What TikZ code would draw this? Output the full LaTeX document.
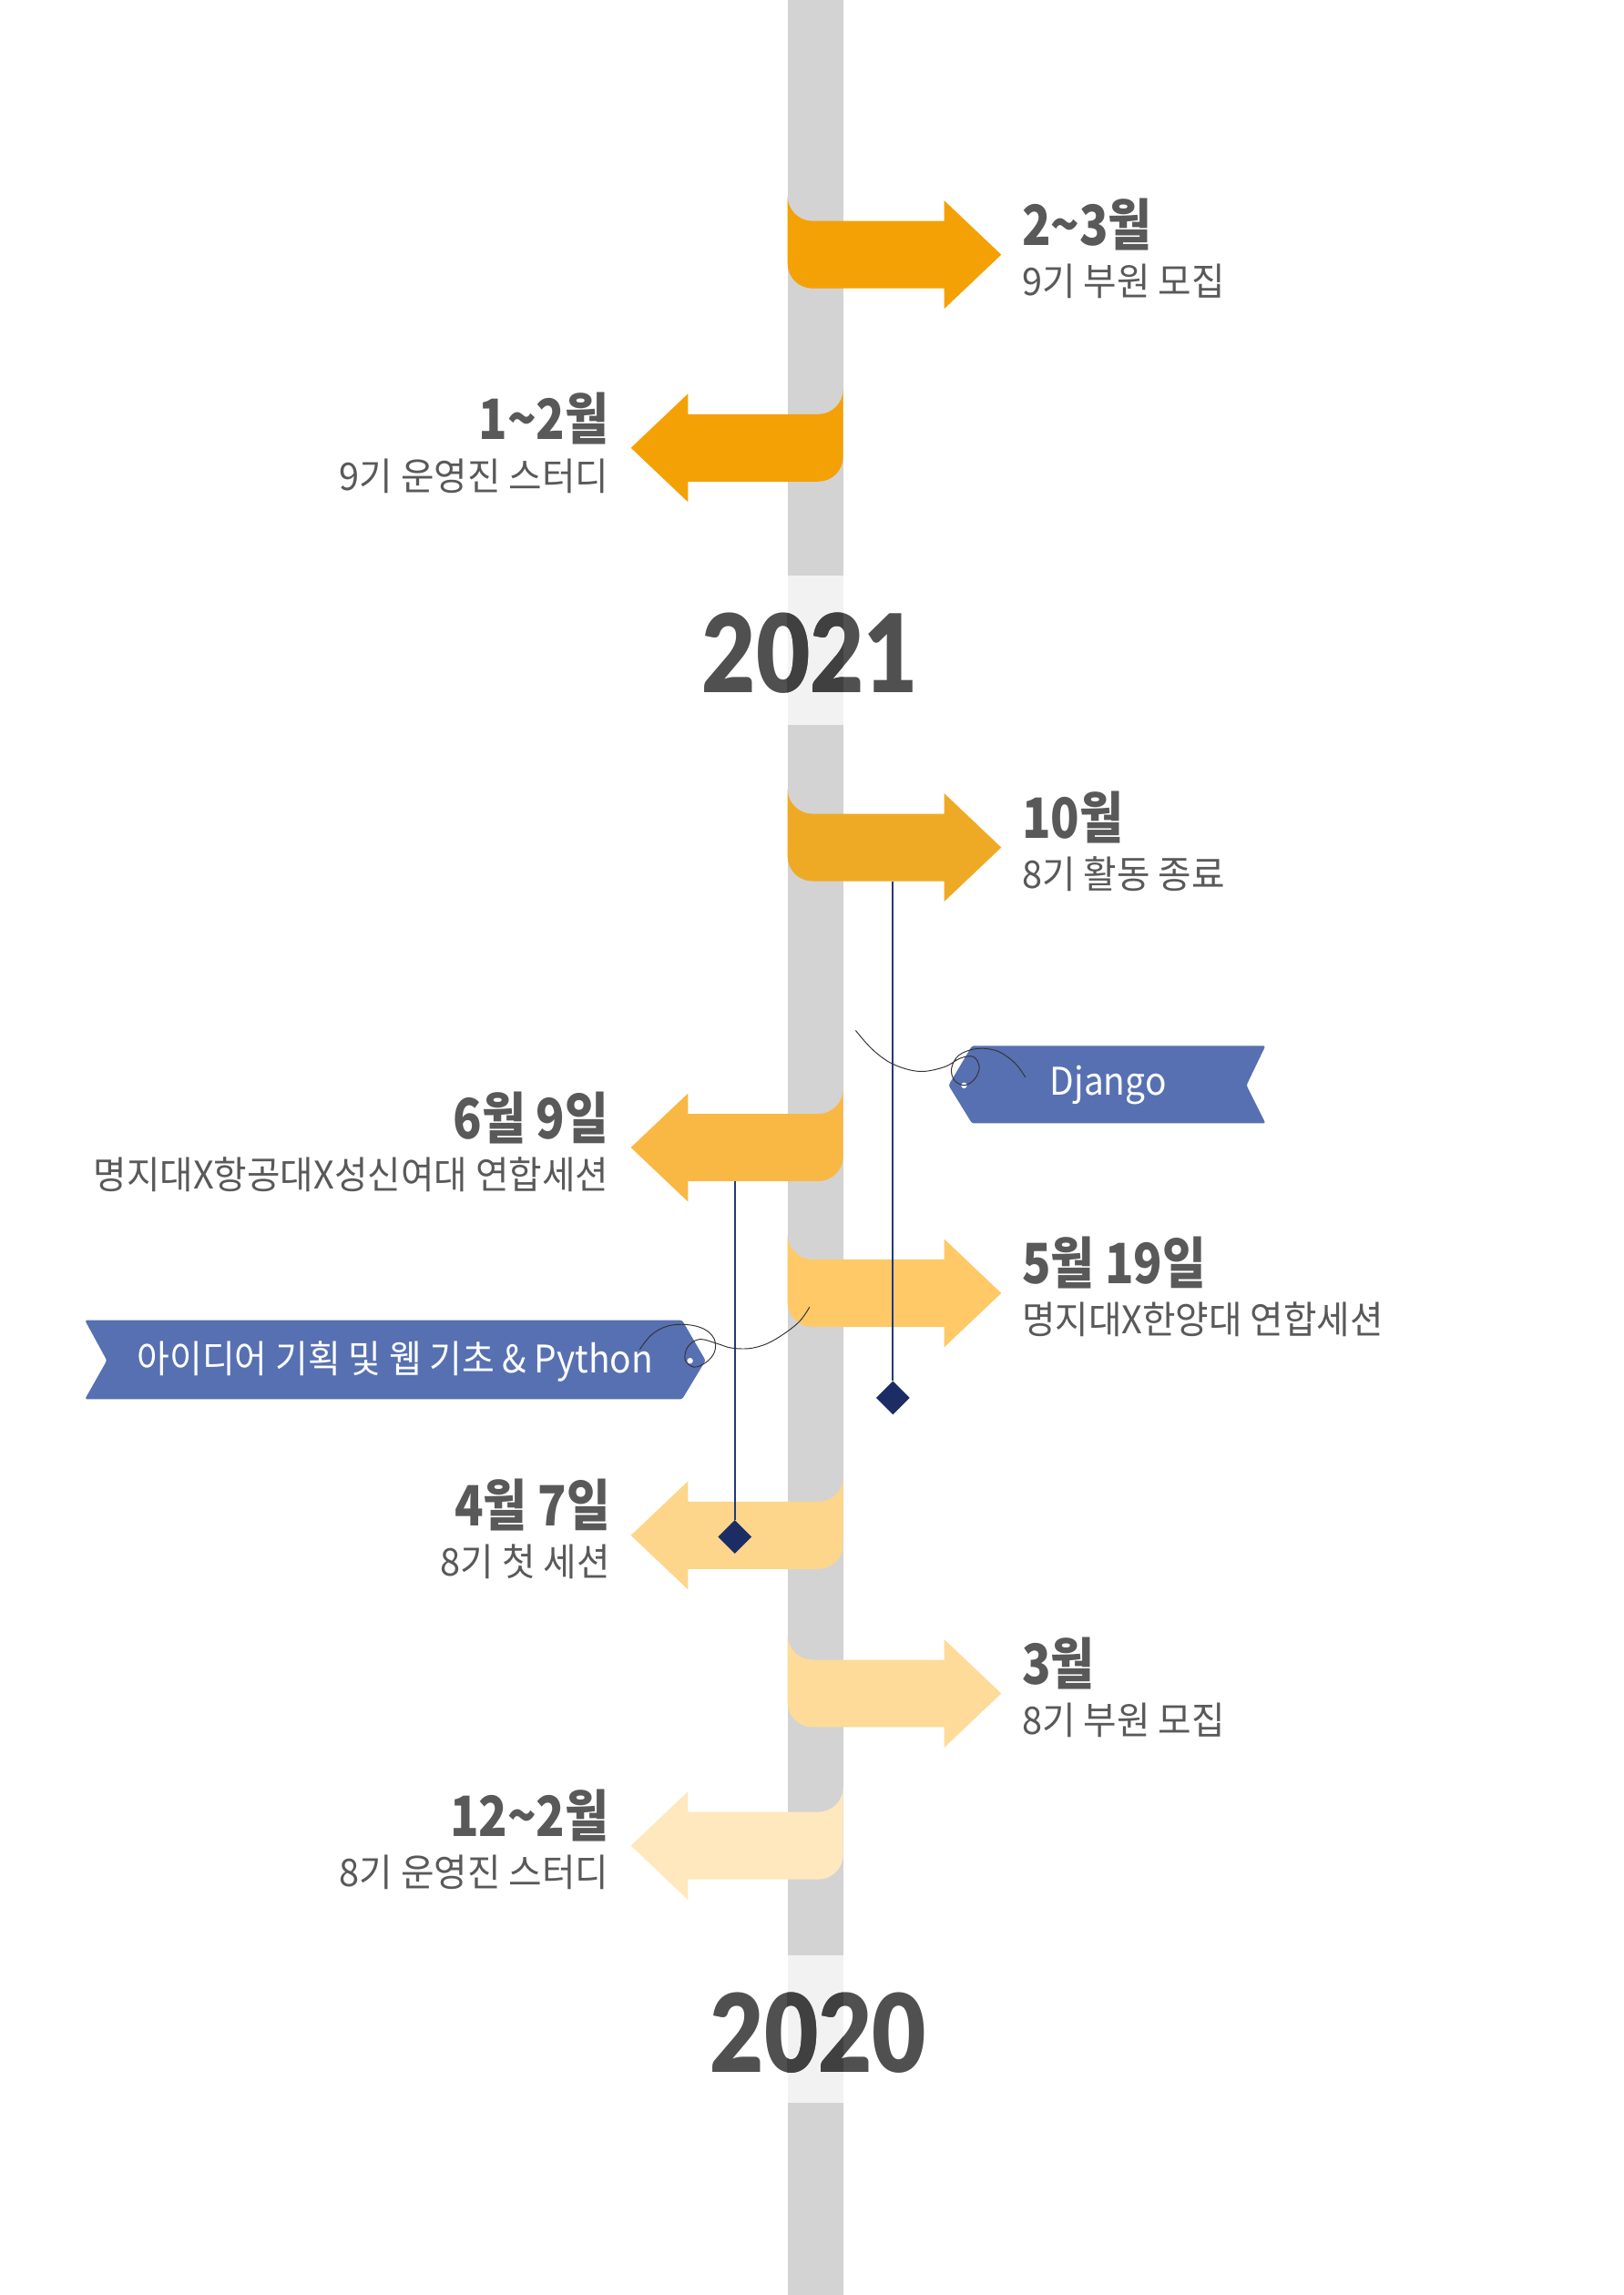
\documentclass[tikz,border=0pt]{standalone}
\usepackage{fontspec}
\usetikzlibrary{shapes.geometric}
\newfontfamily\krfont{Noto Sans CJK KR}[FakeStretch=0.95]
\newfontfamily\krdate{Noto Sans CJK KR}[FakeStretch=0.85]
\newfontfamily\krtag{Noto Sans CJK KR}[FakeStretch=0.93]
\newfontfamily\yearfont{Lato Black}[FakeStretch=0.86]
\definecolor{spinegray}{HTML}{D3D3D3}
\definecolor{bandgray}{HTML}{F2F2F2}
\definecolor{yeargray}{HTML}{505050}
\definecolor{yeardark}{HTML}{404040}
\definecolor{textgray}{HTML}{595959}
\definecolor{flaga}{HTML}{F3A105}
\definecolor{flagb}{HTML}{EFAA25}
\definecolor{flagc}{HTML}{F8B843}
\definecolor{flagd}{HTML}{FEC966}
\definecolor{flage}{HTML}{FDD68B}
\definecolor{flagf}{HTML}{FEDB99}
\definecolor{flagg}{HTML}{FFE8BE}
\definecolor{tagblue}{HTML}{5670B1}
\definecolor{stemblue}{HTML}{23387D}
\definecolor{stemdark}{HTML}{1B2D64}
\tikzset{
    spine/.style={fill=spinegray},
    yearband/.style={fill=bandgray},
    yearlabel/.style={
        font=\yearfont\fontsize{74}{80}\selectfont,
        text=yeargray, inner sep=0pt, anchor=base,
    },
    datelabel/.style={
        font=\krdate\bfseries\fontsize{38}{44}\selectfont,
        text=textgray, inner sep=0pt,
    },
    eventlabel/.style={
        font=\krfont\fontsize{26}{30}\selectfont,
        text=textgray, inner sep=0pt,
    },
    tagribbon/.style={fill=tagblue, rounded corners=1.5pt},
    tagtext/.style={
        font=\krtag\fontsize{26}{30}\selectfont,
        text=white, inner sep=0pt, anchor=base,
    },
    stemline/.style={draw=stemblue, line width=1.3pt},
    stemend/.style={
        diamond, fill=stemdark, inner sep=0pt,
        minimum width=23pt, minimum height=23pt,
    },
    thread/.style={draw=black!80, line width=0.6pt},
}
% flag pointing right: name, centre y, colour
\newcommand{\flagright}[3]{%
    \coordinate (#1) at (538,#2);
    \fill[#3] (538,#2-40) .. controls (538,#2-30.6) and (545.6,#2-23) .. (555,#2-23)
        -- (645,#2-23) -- (645,#2-37) -- (684,#2) -- (645,#2+37) -- (645,#2+23)
        -- (555,#2+23) .. controls (545.6,#2+23) and (538,#2+15.4) .. (538,#2+6) -- cycle;
}
% flag pointing left: name, centre y, colour
\newcommand{\flagleft}[3]{%
    \coordinate (#1) at (576,#2);
    \fill[#3] (576,#2-40) .. controls (576,#2-30.6) and (568.4,#2-23) .. (559,#2-23)
        -- (470,#2-23) -- (470,#2-37) -- (431,#2) -- (470,#2+37) -- (470,#2+23)
        -- (559,#2+23) .. controls (568.4,#2+23) and (576,#2+15.4) .. (576,#2+6) -- cycle;
}

\begin{document}
\begin{tikzpicture}[x=1pt, y=-1pt]

\useasboundingbox (0,0) rectangle (1109,1568);
\fill[white] (0,0) rectangle (1109,1568);

% =============================================
% Spine and year bands
% =============================================
\fill[spine] (538,0) rectangle (576,1568);
\fill[yearband] (538,393) rectangle (576,495);
\fill[yearband] (538,1336) rectangle (576,1437);

\node[yearlabel] (y2021) at (553.5,473.5) {2021};
\begin{scope}
    \clip (538,393) rectangle (576,495);
    \node[yearlabel, text=yeardark] (y2021b) at (553.5,473.5) {2021};
\end{scope}

\node[yearlabel] (y2020) at (559,1416) {2020};
\begin{scope}
    \clip (538,1336) rectangle (576,1437);
    \node[yearlabel, text=yeardark] (y2020b) at (559,1416) {2020};
\end{scope}

% =============================================
% Flags
% =============================================
\flagright{f23}{174}{flaga}
\flagleft{f12}{306}{flaga}
\flagright{f10}{579}{flagb}
\flagleft{f69}{784}{flagc}
\flagright{f519}{883.5}{flagd}
\flagleft{f47}{1049}{flage}
\flagright{f3}{1157}{flagf}
\flagleft{f122}{1261}{flagg}

% =============================================
% Labels
% =============================================
\node[datelabel, anchor=base west] (t23) at (698,167.5) {2\textasciitilde3월};
\node[eventlabel, anchor=base west] (s23) at (698,202) {9기 부원 모집};

\node[datelabel, anchor=base east] (t12) at (416,300) {1\textasciitilde2월};
\node[eventlabel, anchor=base east] (s12) at (416,335) {9기 운영진 스터디};

\node[datelabel, anchor=base west] (t10) at (698,572.5) {10월};
\node[eventlabel, anchor=base west] (s10) at (698,607) {8기 활동 종료};

\node[datelabel, anchor=base east] (t69) at (416,778) {6월 9일};
\node[eventlabel, anchor=base east] (s69) at (416,812.5) {명지대X항공대X성신여대 연합세션};

\node[datelabel, anchor=base west] (t519) at (698,877) {5월 19일};
\node[eventlabel, anchor=base west] (s519) at (698,911.5) {명지대X한양대 연합세션};

\node[datelabel, anchor=base east] (t47) at (417,1042.5) {4월 7일};
\node[eventlabel, anchor=base east] (s47) at (417,1077) {8기 첫 세션};

\node[datelabel, anchor=base west] (t3) at (698,1150.5) {3월};
\node[eventlabel, anchor=base west] (s3) at (698,1185) {8기 부원 모집};

\node[datelabel, anchor=base east] (t122) at (416,1254.5) {12\textasciitilde2월};
\node[eventlabel, anchor=base east] (s122) at (416,1289) {8기 운영진 스터디};

% =============================================
% Stems with diamond ends
% =============================================
\coordinate (stemA) at (610,602);
\node[stemend] (endA) at (610,955) {};
\draw[stemline] (stemA) -- (endA.north);

\coordinate (stemB) at (502,807);
\node[stemend] (endB) at (502,1050) {};
\draw[stemline] (stemB) -- (endB.north);

% =============================================
% Tags
% =============================================
\fill[tagribbon] (648,741.5) -- (664,714.5) -- (864.5,714.5) -- (851.5,741.5)
    -- (864.5,767.5) -- (664,767.5) -- cycle;
\node[tagtext] (djtag) at (757,748) {Django};
\coordinate (djhole) at (658.6,741.6);
\fill[white] (djhole) circle (2);

\fill[tagribbon] (58,902) -- (466,902) -- (482,929.5) -- (466,956)
    -- (58,956) -- (73,929.5) -- cycle;
\node[tagtext] (pytag) at (270,938) {아이디어 기획 및 웹 기초 \& Python};
\coordinate (pyhole) at (471.4,929.7);
\fill[white] (pyhole) circle (2);

% threads
\draw[thread] plot[smooth, tension=0.6] coordinates {
    (584.5,704) (596,717) (610,727) (628,732) (645,729) (656,723)
    (665,722) (669,729) (666,737) (659,741.5) (652,738) (650,730)
    (655,721) (667,716.5) (681,718) (693,726) (700.5,736)};

\draw[thread] plot[smooth, tension=0.6] coordinates {
    (437,922) (445,912) (456,906) (469,905) (481,908) (488,915)
    (488,924) (482,931) (474,934) (468,929) (470,920) (478,915)
    (490,918) (500,921) (514,921) (528,916) (545,904) (553,893)};

\end{tikzpicture}
\end{document}
